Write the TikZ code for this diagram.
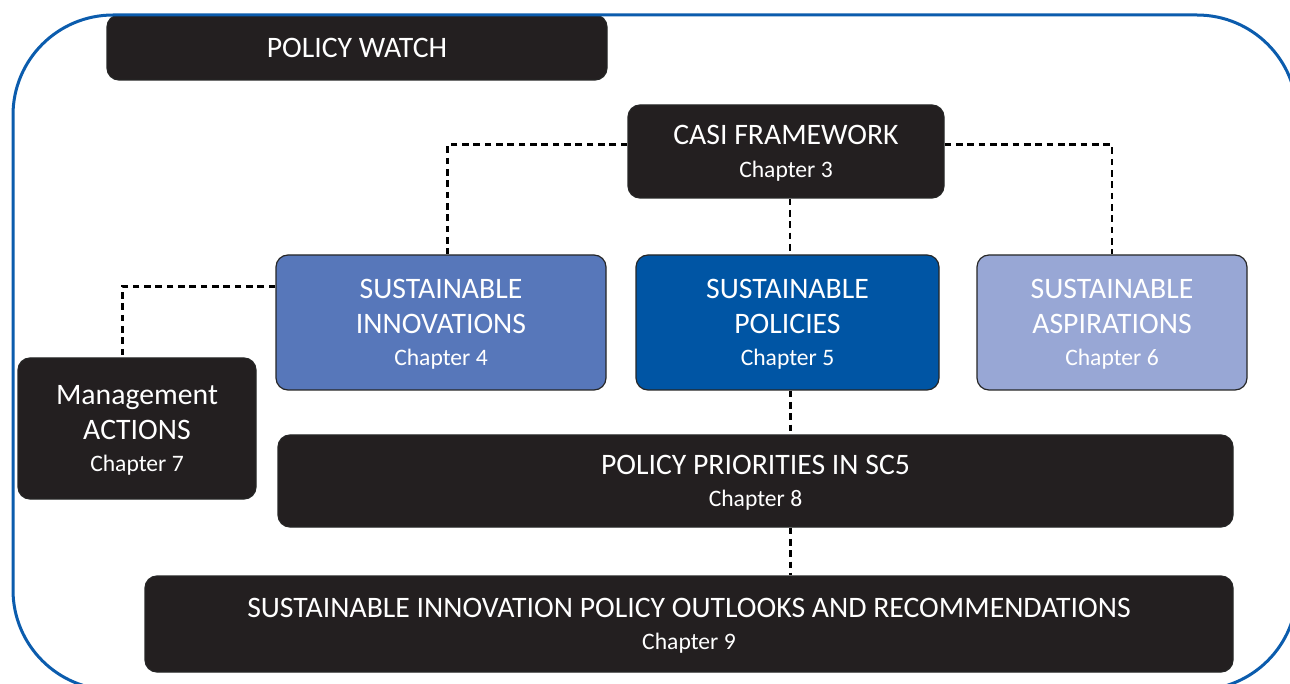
\documentclass[tikz,border=0pt]{standalone}
\usepackage{fontspec}
\setmainfont{Carlito}
\definecolor{frameblue}{HTML}{0B5CAD}
\definecolor{boxblack}{HTML}{231F20}
\definecolor{innovblue}{HTML}{5777BA}
\definecolor{polblue}{HTML}{0055A4}
\definecolor{aspblue}{HTML}{98A7D5}
\newcommand{\chap}[1]{{\fontsize{17.7}{21}\selectfont #1}}
\tikzset{
  box/.style={rectangle, rounded corners=9pt, draw=black!85, line width=0.9pt,
    fill=boxblack, text=white, align=center, inner sep=2pt,
    font=\fontsize{22.3}{26}\selectfont},
  chapbox/.style={box, text depth=-0.5pt},
  link/.style={draw=black, line width=2pt, dash pattern=on 5pt off 3.5pt}
}
\begin{document}
\begin{tikzpicture}[x=0.75pt,y=-0.75pt]
  \useasboundingbox (0,0) rectangle (1290,684);
  \clip (0,0) rectangle (1290,684);
  % boxes
  \node[box, minimum width=375pt, minimum height=48.75pt] (watch) at (357,47.5) {POLICY WATCH};
  \node[chapbox, minimum width=237pt, minimum height=69.75pt] (casi) at (786,151.5)
    {CASI FRAMEWORK\\[-1.5pt]\chap{Chapter 3}};
  \node[chapbox, fill=innovblue, minimum width=247.5pt, minimum height=101.25pt] (innov) at (441,322.5)
    {SUSTAINABLE\\INNOVATIONS\\[-1.5pt]\chap{Chapter 4}};
  \node[chapbox, fill=polblue, minimum width=227.25pt, minimum height=101.25pt] (pol) at (787.5,322.5)
    {SUSTAINABLE\\POLICIES\\[-1.5pt]\chap{Chapter 5}};
  \node[chapbox, fill=aspblue, minimum width=202.5pt, minimum height=101.25pt] (asp) at (1112,322.5)
    {SUSTAINABLE\\ASPIRATIONS\\[-1.5pt]\chap{Chapter 6}};
  \node[chapbox, minimum width=178.5pt, minimum height=105.75pt] (mgmt) at (137,428.5)
    {Management\\ACTIONS\\[-1.5pt]\chap{Chapter 7}};
  \node[chapbox, minimum width=716.25pt, minimum height=69pt] (prio) at (755.5,481)
    {POLICY PRIORITIES IN SC5\\[-1.5pt]\chap{Chapter 8}};
  \node[chapbox, minimum width=816pt, minimum height=72pt] (outl) at (689,624)
    {SUSTAINABLE INNOVATION POLICY OUTLOOKS AND RECOMMENDATIONS\\[-1.5pt]\chap{Chapter 9}};
  % dashed links
  \draw[link] ([yshift=5pt]casi.west) -| ([xshift=5pt]innov.north);
  \draw[link] ([yshift=5pt]casi.east) -| (asp.north);
  \draw[link] ([xshift=3pt]casi.south) -- ([xshift=3pt]casi.south |- pol.north);
  \draw[link] ([yshift=27pt]innov.west) -| ([xshift=-11pt]mgmt.north);
  \draw[link] ([xshift=2pt]pol.south) -- ([xshift=2pt]pol.south |- prio.north);
  \draw[link] ([xshift=2pt]pol.south |- prio.south) -- ([xshift=2pt]pol.south |- outl.north);
  % outer frame
  \draw[frameblue, line width=2.25pt, rounded corners=75pt] (13,15) rectangle (1297,690);
\end{tikzpicture}
\end{document}
